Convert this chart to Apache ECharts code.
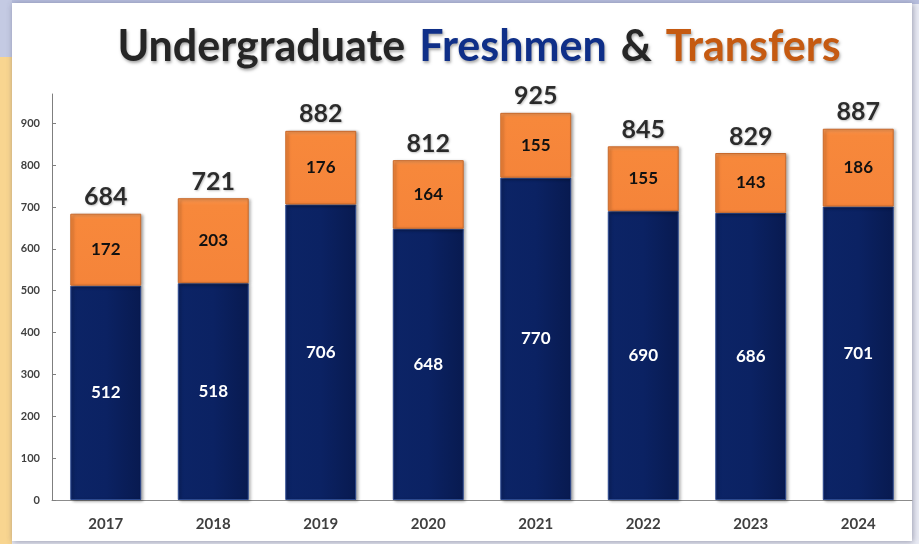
<!DOCTYPE html>
<html><head><meta charset="utf-8">
<script src="https://cdn.jsdelivr.net/npm/echarts@6/dist/echarts.min.js"></script>
<style>html,body{margin:0;padding:0;background:#fff}#c{width:919px;height:544px}</style>
</head><body><div id="c"></div>
<script>
var years = ['2017','2018','2019','2020','2021','2022','2023','2024'];
var freshmen = [512,518,706,648,770,690,686,701];
var transfers = [172,203,176,164,155,155,143,186];
var yTicks = [0,100,200,300,400,500,600,700,800,900];
var totals = freshmen.map(function(v,i){return v+transfers[i];});

var tShadow = {textShadowColor:'rgba(0,0,0,0.35)', textShadowBlur:3, textShadowOffsetX:1, textShadowOffsetY:2};
function titleStyle(color, pad){
  return Object.assign({fontFamily:'Lato', fontWeight:'bold', fontSize:43, color:color, padding:pad}, tShadow);
}

var chart = echarts.init(document.getElementById('c'));
chart.setOption({
  backgroundColor: '#ffffff',
  animation: false,
  graphic: [
    {type:'rect', z:-10, shape:{x:0,y:0,width:919,height:544}, style:{fill:'#e9ebf4'}},
    {type:'rect', z:-10, shape:{x:0,y:0,width:919,height:4}, style:{fill:'#b7bedd'}},
    {type:'rect', z:-10, shape:{x:0,y:0,width:12,height:57}, style:{fill:'#c4cae3'}},
    {type:'rect', z:-10, shape:{x:0,y:57,width:12,height:487}, style:{fill:'#f8d590'}},
    {type:'rect', z:-9, shape:{x:12,y:3,width:900,height:538}, style:{fill:'#ffffff', shadowBlur:6, shadowColor:'rgba(60,60,90,0.45)', shadowOffsetX:1, shadowOffsetY:1}}
  ],
  title: {
    left: 474, top: 21, textAlign: 'center',
    text: '{a|Undergraduate}{b|Freshmen}{d|&}{c|Transfers}',
    textStyle: {
      rich: {
        a: titleStyle('#262626', [0,7,0,0]),
        b: titleStyle('#0f2f88', [0,7,0,7]),
        d: titleStyle('#262626', [0,7,0,7]),
        c: titleStyle('#c55a11', [0,0,0,7])
      }
    }
  },
  grid: {left: 52, right: 7, top: 94, bottom: 44, containLabel: false},
  xAxis: {
    type: 'category', data: years,
    axisLine: {lineStyle: {color: '#8c8c8c', width: 1}},
    axisTick: {show: false},
    axisLabel: {fontFamily:'Lato', fontWeight:'bold', fontSize:15, color:'#404040', margin: 17}
  },
  yAxis: {
    type: 'value', min: 0, max: 970, interval: 100,
    splitLine: {show: false},
    axisLine: {show: true, lineStyle: {color: '#7f7f7f', width: 1}},
    axisTick: {show: true, inside: true, length: 4, lineStyle: {color:'#7f7f7f'}, customValues: yTicks},
    axisLabel: {fontFamily:'Lato', fontWeight:'bold', fontSize:11, color:'#404040', margin: 12, customValues: yTicks}
  },
  series: [
    {
      name: 'Freshmen', type: 'bar', stack: 'a', barWidth: '66%', data: freshmen,
      itemStyle: {
        color: {type:'linear', x:0, y:0, x2:1, y2:0, colorStops:[{offset:0,color:'#0c2466'},{offset:0.5,color:'#0b2263'},{offset:1,color:'#081a50'}]},
        borderColor: '#2d4a8f', borderWidth: 1,
        shadowBlur: 3, shadowColor: 'rgba(0,0,0,0.35)', shadowOffsetX: 2, shadowOffsetY: 1
      },
      label: {show: true, position: 'inside', fontFamily:'Lato', fontWeight:'bold', fontSize:17, color:'#ffffff'}
    },
    {
      name: 'Transfers', type: 'bar', stack: 'a', barWidth: '66%', data: transfers,
      itemStyle: {
        color: {type:'linear', x:0, y:0, x2:0, y2:1, colorStops:[{offset:0,color:'#fa9a55'},{offset:0.08,color:'#f7883b'},{offset:1,color:'#f5843a'}]},
        borderColor: '#c8682a', borderWidth: 1,
        shadowBlur: 3, shadowColor: 'rgba(0,0,0,0.35)', shadowOffsetX: 2, shadowOffsetY: 1
      },
      label: {show: true, position: 'inside', fontFamily:'Lato', fontWeight:'bold', fontSize:17, color:'#111111'}
    },
    {
      name: 'Total', type: 'scatter', data: totals, symbolSize: 0.01, z: 10,
      label: {show: true, position: 'top', distance: 4, fontFamily:'Lato', fontWeight:'bold', fontSize:25, color:'#000000',
        textShadowColor:'rgba(0,0,0,0.3)', textShadowBlur:2, textShadowOffsetX:1, textShadowOffsetY:1}
    }
  ]
});
</script></body></html>
